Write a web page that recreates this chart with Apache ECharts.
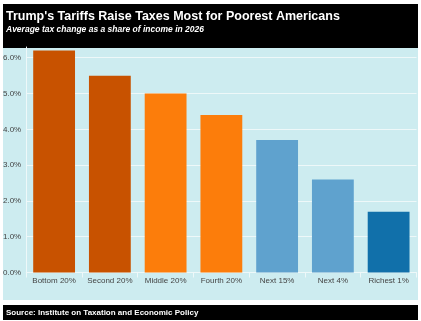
<!DOCTYPE html>
<html>
<head>
<meta charset="utf-8">
<script src="https://cdn.jsdelivr.net/npm/echarts@6/dist/echarts.min.js"></script>
<style>
  html, body { margin: 0; padding: 0; background: #ffffff; }
  #chart { width: 421px; height: 321px; }
</style>
</head>
<body>
<div id="chart"></div>
<script>
// Income groups and average tax change (% of income, 2026)
const categories = ['Bottom 20%', 'Second 20%', 'Middle 20%', 'Fourth 20%', 'Next 15%', 'Next 4%', 'Richest 1%'];
const taxChange = [6.2, 5.5, 5.0, 4.4, 3.7, 2.6, 1.7];
const barColors = ['#c85200', '#c85200', '#fc7d0b', '#fc7d0b', '#5fa2ce', '#5fa2ce', '#1170aa'];
const yTicks = [0, 1, 2, 3, 4, 5, 6];

const font = '"Liberation Sans", Arial, sans-serif';
const chart = echarts.init(document.getElementById('chart'), null, { renderer: 'canvas' });

chart.setOption({
  animation: false,
  backgroundColor: '#ffffff',
  graphic: [
    { type: 'rect', z: -10, shape: { x: 3, y: 4, width: 415, height: 44 }, style: { fill: '#000000' } },
    { type: 'rect', z: -10, shape: { x: 3, y: 48, width: 415, height: 252 }, style: { fill: '#cdecf0' } },
    { type: 'rect', z: -10, shape: { x: 3, y: 305, width: 415, height: 15 }, style: { fill: '#000000' } }
  ],
  title: [
    {
      text: "Trump's Tariffs Raise Taxes Most for Poorest Americans",
      left: 6, top: 10, padding: 0,
      textStyle: { color: '#ffffff', fontFamily: font, fontSize: 12.5, fontWeight: 'bold', lineHeight: 14 }
    },
    {
      text: 'Average tax change as a share of income in 2026',
      left: 6, top: 24.5, padding: 0,
      textStyle: { color: '#ffffff', fontFamily: font, fontSize: 8.5, fontWeight: 'bold', fontStyle: 'italic', lineHeight: 10 }
    },
    {
      text: 'Source: Institute on Taxation and Economic Policy',
      left: 6, top: 308, padding: 0,
      textStyle: { color: '#ffffff', fontFamily: font, fontSize: 8, fontWeight: 'bold', lineHeight: 10 }
    }
  ],
  grid: { left: 26, right: 4.5, top: 47, bottom: 48.5, containLabel: false },
  xAxis: {
    type: 'category',
    data: categories,
    axisLine: { show: true, lineStyle: { color: '#eef8f9', width: 1 } },
    axisTick: { show: true, alignWithLabel: false, length: 5, lineStyle: { color: '#eef8f9' } },
    axisLabel: { color: '#444444', fontFamily: font, fontSize: 8, margin: 4, interval: 0 },
    splitLine: { show: false }
  },
  yAxis: {
    type: 'value',
    min: 0,
    max: 6.3,
    interval: 1,
    axisLine: { show: true, lineStyle: { color: '#eef8f9', width: 1 } },
    axisTick: { show: false },
    axisLabel: {
      color: '#444444', fontFamily: font, fontSize: 8, margin: 5,
      showMaxLabel: false,
      formatter: v => (yTicks.includes(v) ? v.toFixed(1) + '%' : '')
    },
    splitLine: { show: true, showMaxLine: false, lineStyle: { color: '#eef8f9', width: 1 } }
  },
  series: [{
    type: 'bar',
    data: taxChange.map((v, i) => ({ value: v, itemStyle: { color: barColors[i] } })),
    barCategoryGap: '25%'
  }]
});
</script>
</body>
</html>
